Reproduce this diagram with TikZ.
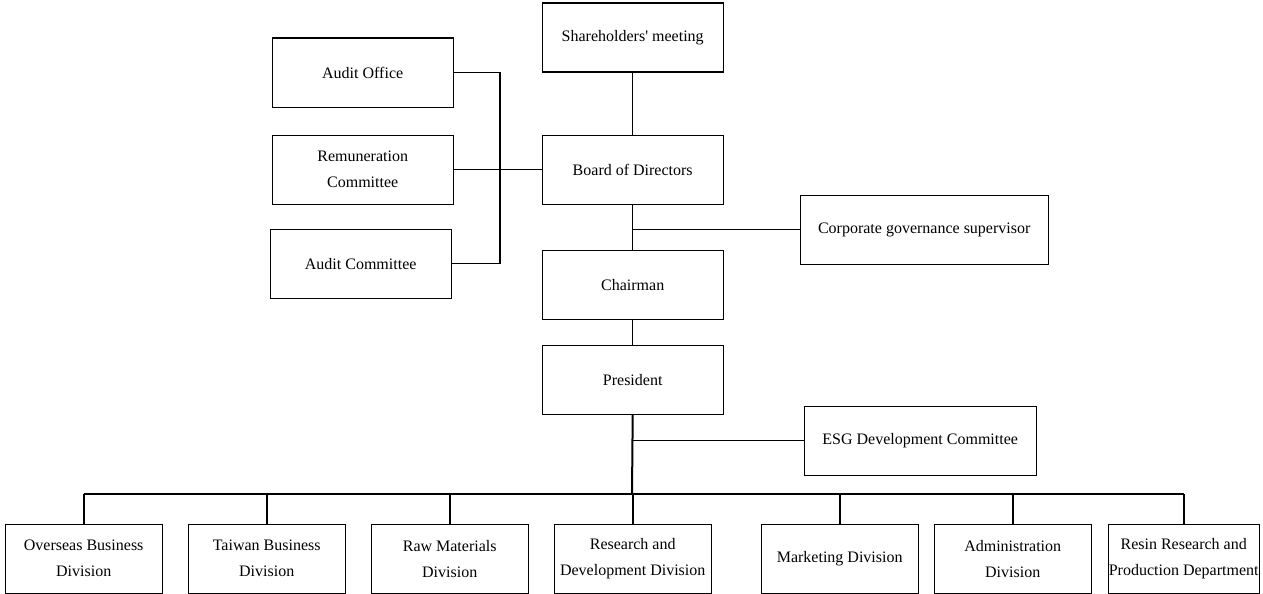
\documentclass[tikz,border=0pt]{standalone}
\usepackage{fontspec}
\setmainfont{Liberation Serif}
\usetikzlibrary{positioning}

\begin{document}
\begin{tikzpicture}[x=1pt, y=-1pt,
  block/.style={draw, line width=1.4pt, anchor=north west, minimum height=69pt, inner sep=0pt, align=center, font=\fontsize{16}{26}\selectfont},
  topblock/.style={block, minimum width=181pt},
  divblock/.style={block, minimum width=157pt},
  link/.style={line width=1.3pt},
  bus/.style={line width=2pt}]

  \useasboundingbox (0,0) rectangle (1263,594);

  % Main column
  \node[topblock] (SH) at (541.5,2.5) {Shareholders\textquotesingle\ meeting};
  \node[topblock] (BD) at (541.5,134.5) {Board of Directors};
  \node[topblock] (CH) at (541.5,249.5) {Chairman};
  \node[topblock] (PR) at (541.5,344.5) {President};

  % Left column
  \node[topblock] (AO) at (271.5,37.5) {Audit Office};
  \node[topblock] (RC) at (271.5,134.5) {Remuneration\\Committee};
  \node[topblock] (AC) at (269.5,228.5) {Audit Committee};

  % Right side
  \node[block, minimum width=248pt] (CG) at (799.5,194.5) {Corporate governance supervisor};
  \node[block, minimum width=232pt] (ESG) at (803.5,405.5) {ESG Development Committee};

  % Divisions
  \node[divblock] (D1) at (4.5,523.5) {Overseas Business\\Division};
  \node[divblock] (D2) at (187.5,523.5) {Taiwan Business\\Division};
  \node[divblock] (D3) at (370.5,523.5) {Raw Materials\\Division};
  \node[divblock] (D4) at (553.5,523.5) {Research and\\Development Division};
  \node[divblock] (D5) at (760.5,523.5) {Marketing Division};
  \node[divblock] (D6) at (933.5,523.5) {Administration\\Division};
  \node[divblock, minimum width=151pt] (D7) at (1107.5,523.5) {Resin Research and\\Production Department};

  \coordinate (L) at (500,0);
  \coordinate (B) at (632,494);

  % Vertical chain
  \draw[link] (SH.south) -- (BD.north);
  \draw[link] (BD.south) -- (CH.north);
  \draw[link] (CH.south) -- (PR.north);
  \draw[link] (CG.west) -- (CG.west -| BD.south);
  \draw[bus] (PR.south) -- (B);
  \draw[link] (ESG.west) -- (ESG.west -| PR.south);

  % Committees
  \draw[link] (AO.east) -- (AO.east -| L) -- (AC.east -| L) -- (AC.east);
  \draw[link] (RC.east) -- (BD.west);

  % Division bus
  \draw[bus] (D1.north |- B) -- (D7.north |- B);
  \foreach \d in {D1,D2,D3,D4,D5,D6,D7}
    \draw[bus] (\d.north) -- (\d.north |- B);

\end{tikzpicture}
\end{document}
